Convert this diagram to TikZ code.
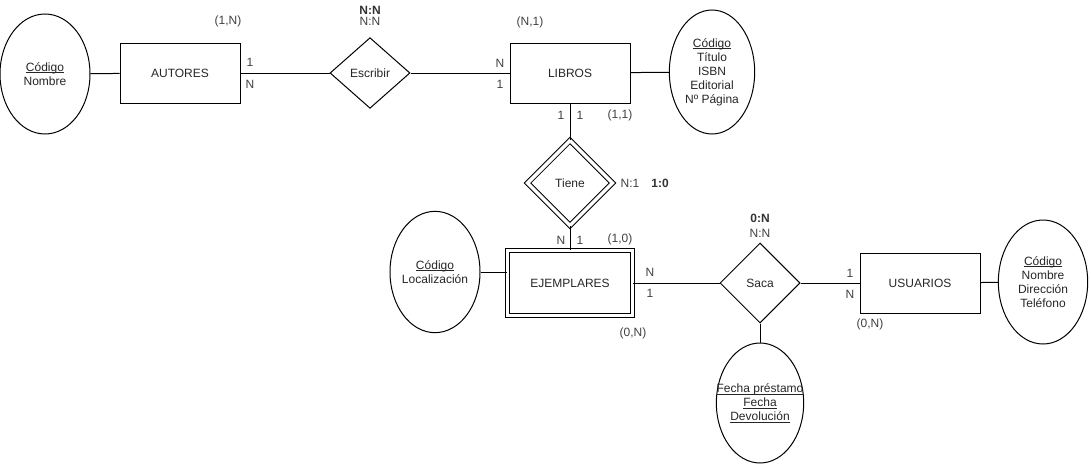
\documentclass[tikz,border=0pt]{standalone}
\usepackage{fontspec}
\setmainfont{Liberation Sans}
\usetikzlibrary{shapes.geometric}
% underline that sits just below the baseline
\newcommand{\keyul}[1]{\setbox0\hbox{#1}\rlap{\rule[-1.3pt]{\wd0}{0.45pt}}\box0}
\begin{document}
\begin{tikzpicture}[x=0.75pt,y=-0.75pt,
  every node/.style={font=\fontsize{9}{10.5}\selectfont, text=black!85, inner sep=0pt},
  line/.style={draw=black, line width=0.75pt},
  entity/.style={line, rectangle, minimum width=90pt, minimum height=45pt},
  weakentity/.style={line, rectangle, minimum width=90pt, minimum height=45pt, double, double distance=2.6pt},
  attr/.style={line, ellipse, align=center, inner xsep=-12pt},
  lbl/.style={text=black!75},
  blbl/.style={text=black!80, font=\fontsize{9}{10.5}\selectfont\bfseries}]
\useasboundingbox (0,0) rectangle (1091,464);

% entities
\node[entity] (autores) at (180,73) {AUTORES};
\node[entity] (libros) at (570,73) {LIBROS};
\node[weakentity, minimum width=93.5pt, minimum height=48.5pt] (ejemplares) at (570,283) {EJEMPLARES};
\node[entity] (usuarios) at (920,283) {USUARIOS};

% relationships
\node[line, diamond, minimum width=60pt, minimum height=53pt] (escribir) at (370,73) {Escribir};
\node[line, diamond, minimum width=64pt, minimum height=64pt, double, double distance=2.6pt] (tiene) at (570,183) {Tiene};
\node[line, diamond, minimum width=60pt, minimum height=60pt] (saca) at (760,283) {Saca};

% attributes
\node[attr, minimum width=67.5pt, minimum height=90pt] (attrautores) at (45,74) {\keyul{Código}\\Nombre};
\node[attr, minimum width=64pt, minimum height=93pt] (attrlibros) at (712,72) {\keyul{Código}\\Título\\ISBN\\Editorial\\Nº Página};
\node[attr, minimum width=67.5pt, minimum height=91pt] (attrejemplares) at (435,272) {\keyul{Código}\\Localización};
\node[attr, minimum width=67pt, minimum height=93pt] (attrusuarios) at (1043,282) {\keyul{Código}\\Nombre\\Dirección\\Teléfono};
\node[attr, minimum width=65.5pt, minimum height=90pt] (attrsaca) at (760,403) {\keyul{Fecha préstamo}\\\keyul{Fecha}\\\keyul{Devolución}};

% connectors
\draw[line] (attrautores) -- (autores);
\draw[line] (autores) -- (escribir);
\draw[line] (escribir) -- (libros);
\draw[line] (libros) -- (attrlibros);
\draw[line] (libros) -- (tiene);
\draw[line] (tiene) -- (ejemplares);
\draw[line] (attrejemplares.east) -- (attrejemplares.east -| ejemplares.west);
\draw[line] (ejemplares) -- (saca);
\draw[line] (saca) -- (usuarios);
\draw[line] (usuarios) -- (attrusuarios);
\draw[line] (saca) -- (attrsaca);

% cardinality labels
\node[lbl] (c1) at (228,21) {(1,N)};
\node[lbl] (c2) at (250,62) {1};
\node[lbl] (c3) at (250,84) {N};
\node[blbl] (c4) at (370,10) {N:N};
\node[lbl] (c5) at (370,21) {N:N};
\node[lbl] (c6) at (500,63) {N};
\node[lbl] (c7) at (500,84) {1};
\node[lbl] (c8) at (530,22) {(N,1)};
\node[lbl] (c9) at (561,115) {1};
\node[lbl] (c10) at (580,115) {1};
\node[lbl] (c11) at (620,115) {(1,1)};
\node[lbl] (c12) at (630,183) {N:1};
\node[blbl] (c13) at (660,183) {1:0};
\node[lbl] (c14) at (561,240) {N};
\node[lbl] (c15) at (580,240) {1};
\node[lbl] (c16) at (620,239) {(1,0)};
\node[lbl] (c17) at (650,272) {N};
\node[lbl] (c18) at (650,293) {1};
\node[lbl] (c19) at (633,333) {(0,N)};
\node[blbl] (c20) at (760,218) {0:N};
\node[lbl] (c21) at (760,233) {N:N};
\node[lbl] (c22) at (850,273) {1};
\node[lbl] (c23) at (850,294) {N};
\node[lbl] (c24) at (870,324) {(0,N)};
\end{tikzpicture}
\end{document}
